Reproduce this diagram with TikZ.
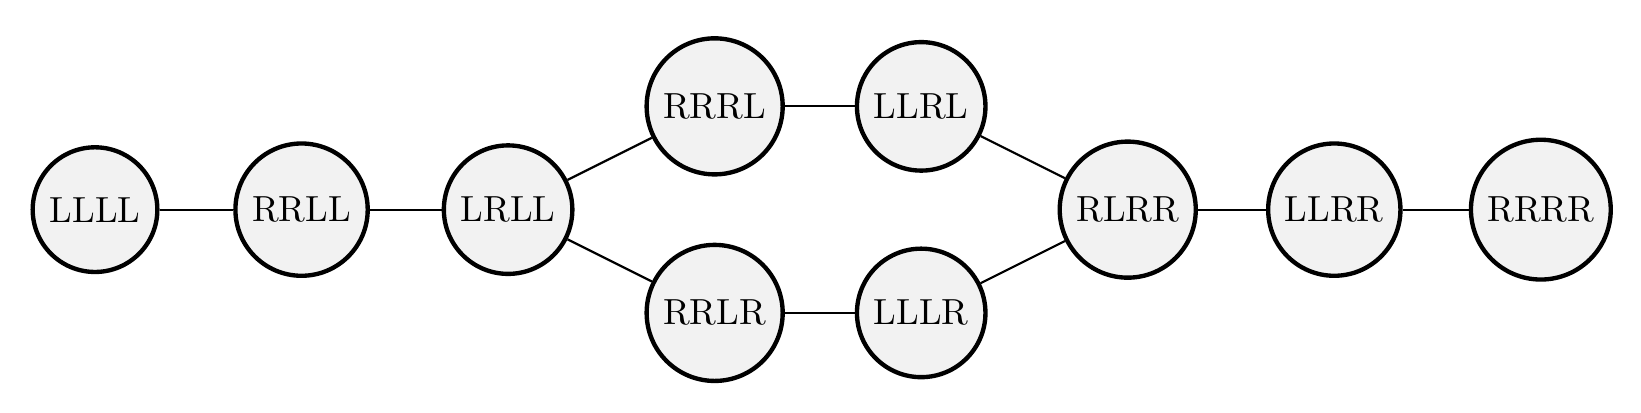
\documentclass[tikz,border=0pt]{standalone}
\begin{document}
\begin{tikzpicture}[state/.style={circle, draw, very thick, fill=black!5}]
  \useasboundingbox (-0.92,-1.96) rectangle (14.97,2.03);
  \node[state] (LLLL) at (0,0) {LLLL};
  \node[state] (RRLL) at (2,0) {RRLL};
  \node[state] (LRLL) at (4,0) {LRLL};
  \node[state] (RRRL) at (6,1) {RRRL};
  \node[state] (RRLR) at (6,-1) {RRLR};
  \node[state] (LLRL) at (8,1) {LLRL};
  \node[state] (LLLR) at (8,-1) {LLLR};
  \node[state] (RLRR) at (10,0) {RLRR};
  \node[state] (LLRR) at (12,0) {LLRR};
  \node[state] (RRRR) at (14,0) {RRRR};
  \foreach \a/\b in {LLLL/RRLL, RRLL/LRLL, LRLL/RRRL, LRLL/RRLR, RRRL/LLRL,
    RRLR/LLLR, LLRL/RLRR, LLLR/RLRR, RLRR/LLRR, LLRR/RRRR}
    \draw[semithick] (\a) -- (\b);
\end{tikzpicture}
\end{document}
